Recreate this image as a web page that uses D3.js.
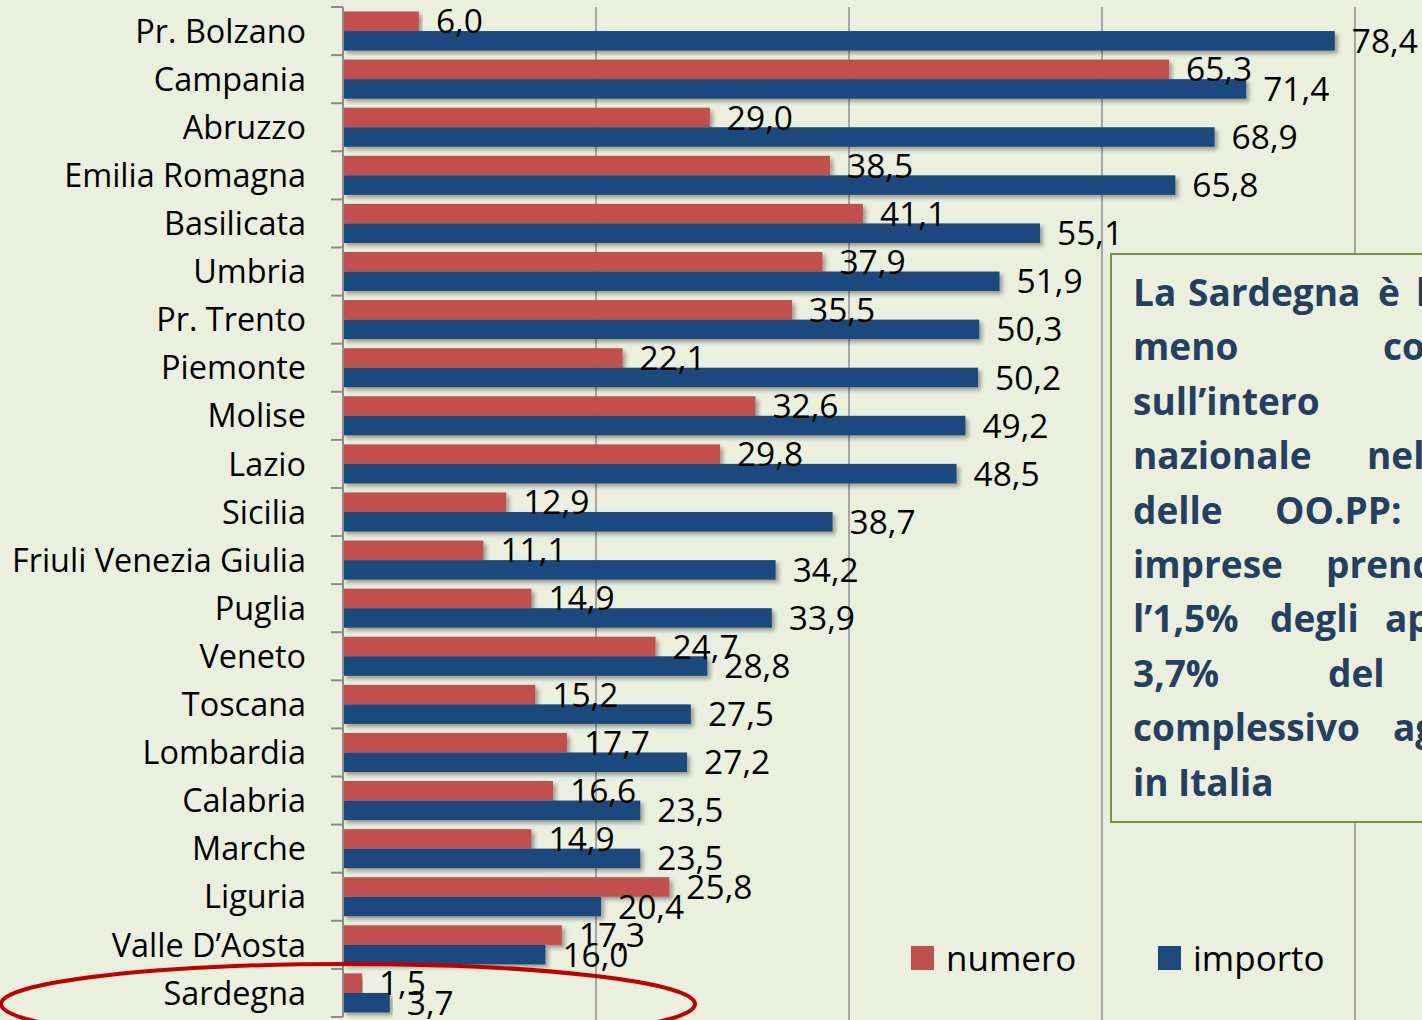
<!DOCTYPE html>
<html>
<head>
<meta charset="utf-8">
<script src="https://cdn.jsdelivr.net/npm/d3@7"></script>
<style>
  html, body { margin: 0; padding: 0; background: #ebf0de; overflow: hidden; }
  svg { display: block; }
</style>
</head>
<body>
<svg id="chart"></svg>
<script>
let regions = ["Pr. Bolzano","Campania","Abruzzo","Emilia Romagna","Basilicata","Umbria","Pr. Trento","Piemonte","Molise","Lazio","Sicilia","Friuli Venezia Giulia","Puglia","Veneto","Toscana","Lombardia","Calabria","Marche","Liguria","Valle D\u2019Aosta","Sardegna"];
let numero  = [6.0,65.3,29.0,38.5,41.1,37.9,35.5,22.1,32.6,29.8,12.9,11.1,14.9,24.7,15.2,17.7,16.6,14.9,25.8,17.3,1.5];
let importo = [78.4,71.4,68.9,65.8,55.1,51.9,50.3,50.2,49.2,48.5,38.7,34.2,33.9,28.8,27.5,27.2,23.5,23.5,20.4,16.0,3.7];
let seriesNames = ["numero","importo"];
let xTicks = [0,20,40,60,80];
let noteLines = [
    ["La","Sardegna","\u00e8","la"],
    ["meno","coinvolta"],
    ["sull\u2019intero"],
    ["nazionale","nel"],
    ["delle","OO.PP:"],
    ["imprese","prendono"],
    ["l\u20191,5%","degli","appalti"],
    ["3,7%","del"],
    ["complessivo","aggiudicato"],
    ["in","Italia"]
];
// word start positions in the justified note (the box is cut by the page edge)
let noteX = [
    [1133,1188,1378,1416],
    [1133,1383],
    [1133],
    [1133,1367],
    [1133,1275],
    [1133,1326],
    [1133,1270,1385],
    [1133,1328],
    [1133,1393],
    [1133,1178]
];

const width = 1422, height = 1020;
const margin = {top: 7, right: 0, bottom: 3, left: 343};
const color = d3.scaleOrdinal().domain(seriesNames).range(["#c0504d","#1f497d"]);
const font = "'Open Sans', sans-serif";

const data = regions.map((r,i) => ({region:r, numero:numero[i], importo:importo[i]}));

const svg = d3.select('#chart').attr('width',width).attr('height',height);

const defs = svg.append('defs');
const shadow = defs.append('filter').attr('id','shadow')
    .attr('x','-5%').attr('y','-20%').attr('width','110%').attr('height','160%');
shadow.append('feDropShadow').attr('dx',3).attr('dy',3).attr('stdDeviation',2)
    .attr('flood-color','#000').attr('flood-opacity',0.35);

const x = d3.scaleLinear().domain([0,80]).range([margin.left, 1355]);
const y0 = d3.scaleBand().domain(regions).range([margin.top, height - margin.bottom]);
const y1 = d3.scaleBand().domain(seriesNames).range([0, y0.bandwidth()]).paddingOuter(0.23);

// gridlines
svg.append('g').selectAll('line')
    .data(xTicks.filter(d => d > 0))
    .join('line')
    .attr('x1', d => x(d)).attr('x2', d => x(d))
    .attr('y1', margin.top).attr('y2', height)
    .attr('stroke','#a6a6a6').attr('stroke-width',2);

// bars
const groups = svg.append('g').selectAll('g')
    .data(data)
    .join('g')
    .attr('transform', d => `translate(0,${y0(d.region)})`);

groups.selectAll('rect')
    .data(d => seriesNames.map(k => ({key:k, value:d[k]})))
    .join('rect')
    .attr('x', x(0))
    .attr('y', d => y1(d.key))
    .attr('width', d => x(d.value) - x(0))
    .attr('height', y1.bandwidth())
    .attr('fill', d => color(d.key))
    .attr('filter','url(#shadow)');

groups.selectAll('text')
    .data(d => seriesNames.map(k => ({key:k, value:d[k]})))
    .join('text')
    .attr('x', d => x(d.value) + 17)
    .attr('y', d => y1(d.key) + y1.bandwidth()/2)
    .attr('dy','0.36em')
    .attr('font-family', font)
    .attr('font-size', 33.5)
    .attr('fill','#000')
    .text(d => d3.format('.1f')(d.value).replace('.', ','));

// category axis
const axisG = svg.append('g');
axisG.append('line')
    .attr('x1', x(0)).attr('x2', x(0))
    .attr('y1', margin.top).attr('y2', height - margin.bottom)
    .attr('stroke','#8c8c8c').attr('stroke-width',2);
axisG.selectAll('line.tick')
    .data(regions.map(r => y0(r)).concat([y0.range()[1]]))
    .join('line')
    .attr('class','tick')
    .attr('x1', x(0) - 12).attr('x2', x(0))
    .attr('y1', d => d).attr('y2', d => d)
    .attr('stroke','#8c8c8c').attr('stroke-width',2);
axisG.selectAll('text')
    .data(regions)
    .join('text')
    .attr('x', 306)
    .attr('y', d => y0(d) + y0.bandwidth()/2)
    .attr('dy','0.36em')
    .attr('text-anchor','end')
    .attr('font-family', font)
    .attr('font-size', 32.4)
    .attr('fill','#000')
    .text(d => d);

// legend
const legend = svg.append('g').selectAll('g')
    .data(seriesNames)
    .join('g')
    .attr('transform', (d,i) => `translate(${911 + i*247},946)`);
legend.append('rect')
    .attr('width',23).attr('height',24)
    .attr('fill', d => color(d));
legend.append('text')
    .attr('x',35).attr('y',12).attr('dy','0.36em')
    .attr('font-family', font)
    .attr('font-size', 35)
    .attr('fill','#000')
    .text(d => d);

// note box
const note = svg.append('g');
note.append('rect')
    .attr('x',1111).attr('y',254).attr('width',400).attr('height',568)
    .attr('fill','#ebf0de').attr('stroke','#77933c').attr('stroke-width',2);
noteLines.forEach((words, li) => {
    note.append('g').selectAll('text')
        .data(words)
        .join('text')
        .attr('x', (d,wi) => noteX[li][wi])
        .attr('y', 306 + li*54.4)
        .attr('font-family', font)
        .attr('font-weight','bold')
        .attr('font-size', 37)
        .attr('fill','#243f60')
        .text(d => d);
});

// highlight ellipse on Sardegna
svg.append('ellipse')
    .attr('cx',348).attr('cy',1004).attr('rx',347).attr('ry',40)
    .attr('fill','none').attr('stroke','#c00000').attr('stroke-width',4);
</script>
</body>
</html>
